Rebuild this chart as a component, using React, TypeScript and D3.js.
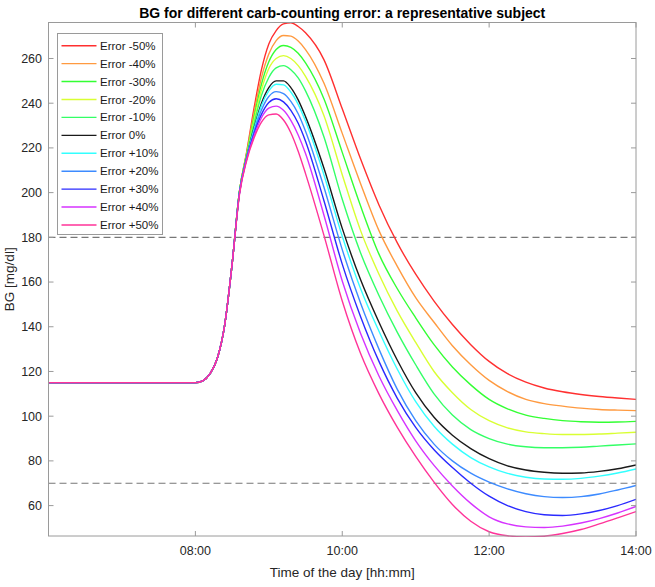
import React from 'react';
import * as d3 from 'd3';

// time of day in decimal hours
const hours = [6, 8, 8.1, 8.2, 8.3, 8.4, 8.5, 8.6, 8.7, 8.8, 8.9, 9.0, 9.1, 9.2, 9.3, 9.4, 9.5, 9.75, 10, 10.25, 10.5, 10.75, 11, 11.25, 11.5, 11.75, 12, 12.25, 12.5, 12.75, 13, 13.25, 13.5, 13.75, 14];

const errMinus50 = [115, 115, 115.8, 119, 126, 141, 168, 200.5, 218.5, 238, 255, 266.5, 272.5, 275.5, 276, 274.3, 271.5, 259.5, 237.5, 215, 194.5, 177.5, 163.5, 151.5, 141, 132, 124.5, 119, 115.2, 112.6, 110.9, 109.7, 108.8, 108.1, 107.5];
const errMinus40 = [115, 115, 115.8, 119, 126, 141, 168, 200.5, 218, 236, 251.5, 262, 268, 270.3, 270, 267.8, 264, 249, 226.5, 204, 183, 167, 153, 142, 131.5, 123, 116, 111, 107.5, 105.6, 104.5, 103.6, 103, 102.7, 102.5];
const errMinus30 = [115, 115, 115.8, 119, 126, 141, 168, 200.5, 217.5, 234, 248.5, 258.5, 264, 265.8, 265, 262.3, 258, 242, 218, 194, 172.5, 157, 144, 132, 122, 114, 107.5, 103.3, 100.5, 99, 98, 97.5, 97.3, 97.4, 97.7];
const errMinus20 = [115, 115, 115.8, 119, 126, 141, 168, 200.5, 217, 232.5, 246, 255.5, 260, 261.3, 260, 256.8, 252, 234.5, 208, 183, 163.5, 147, 133, 120, 110.5, 103, 98, 94.8, 93, 92.2, 91.8, 91.8, 92, 92.4, 92.8];
const errMinus10 = [115, 115, 115.8, 119, 126, 141, 168, 200.5, 216.5, 231, 243.5, 251.5, 255.8, 256.8, 255, 251.3, 245.5, 225, 197, 173, 154, 137.5, 123, 110, 100.5, 94, 90, 87.5, 86.3, 85.9, 85.9, 86.1, 86.6, 87.1, 87.6];
const errZero = [115, 115, 115.8, 119, 126, 141, 168, 200, 216, 229, 240, 247, 250, 250, 247, 241.5, 234, 211, 184, 161, 142, 125, 110.5, 99.5, 91.5, 85.5, 81, 77.8, 75.9, 74.9, 74.5, 74.6, 75.3, 76.5, 78.2];
const errPlus10 = [115, 115, 115.8, 119, 126, 141, 168, 200, 216, 228.5, 239, 245.5, 248.5, 248.2, 245, 239.5, 232, 208, 180.5, 157, 138, 121, 106.5, 95.5, 87.5, 81.5, 77.3, 74.4, 72.7, 71.9, 71.8, 72.2, 73.2, 74.6, 76.4];
const errPlus20 = [115, 115, 115.8, 119, 126, 141, 168, 200, 215.5, 227.5, 237, 243, 245.2, 244.3, 240.8, 235.3, 227.5, 202.5, 174.5, 150.5, 130, 112, 98, 87.5, 80, 74.5, 70.5, 67.5, 65.3, 64, 63.6, 64, 65.2, 67, 69];
const errPlus30 = [115, 115, 115.8, 119, 126, 141, 168, 199.5, 215.5, 226.5, 235, 240.3, 242, 240.6, 236.8, 231, 223, 196.5, 168, 144.5, 124.5, 108, 95, 85, 77, 70, 64.2, 60, 57.3, 55.9, 55.6, 56.3, 57.8, 60, 62.8];
const errPlus40 = [115, 115, 115.8, 119, 126, 141, 168, 199.5, 215, 225.5, 233.5, 237.8, 238.7, 236.8, 232.3, 225.8, 217.5, 190, 160.5, 137, 118, 102.5, 89, 78, 68.8, 61, 55, 51.8, 50.5, 50.2, 50.8, 52.2, 54.2, 56.7, 59.6];
const errPlus50 = [115, 115, 115.8, 119, 126, 141, 168, 199, 214.5, 224.5, 231.5, 234.8, 235.2, 232.5, 226.8, 218.5, 208.5, 181, 151.5, 128, 110, 95, 82, 70.5, 60.5, 53, 48.3, 46.5, 46, 46.3, 47.5, 49.3, 51.8, 54.5, 57.3];

const seriesLabels = ['Error -50%', 'Error -40%', 'Error -30%', 'Error -20%', 'Error -10%', 'Error 0%', 'Error +10%', 'Error +20%', 'Error +30%', 'Error +40%', 'Error +50%'];
const seriesColors = ['#ff3030', '#ff9a40', '#33ff33', '#d9ff33', '#33ff66', '#1a1a1a', '#33ffff', '#3d8bff', '#2a2aff', '#d633ff', '#ff3399'];
const seriesValues = [errMinus50, errMinus40, errMinus30, errMinus20, errMinus10, errZero, errPlus10, errPlus20, errPlus30, errPlus40, errPlus50];

const xTickHours = [8, 10, 12, 14];
const xTickLabels = ['08:00', '10:00', '12:00', '14:00'];
const yTicks = [60, 80, 100, 120, 140, 160, 180, 200, 220, 240, 260];
const thresholds = [180, 70];

const FONT = "'Liberation Sans', Arial, Helvetica, sans-serif";

export default function App() {
  const W = 655;
  const H = 587;
  const L = 48.5, R = 636, T = 22.5, B = 536;
  const x = d3.scaleLinear().domain([6, 14]).range([L, R]);
  const y = d3.scaleLinear().domain([46.4, 276.1]).range([B, T]);
  const line = d3
    .line<number>()
    .x((_, i) => x(hours[i]))
    .y((d) => y(d))
    .curve(d3.curveMonotoneX);

  const axisColor = '#9a9a9a';
  const tickLen = 5;
  const legX = 57.5, legY = 33.5, legW = 105, legH = 201;
  const rowH = 17.93;

  return (
    <svg
      width={W}
      height={H}
      style={{ position: 'absolute', left: 0, top: 0, background: '#fff' }}
      fontFamily={FONT}
    >
      <rect x={0} y={0} width={W} height={H} fill="#fff" />
      <defs>
        <clipPath id="plotclip">
          <rect x={L} y={T - 1} width={R - L} height={B - T + 2} />
        </clipPath>
      </defs>

      {thresholds.map((v) => (
        <line key={v} x1={L} x2={R} y1={y(v)} y2={y(v)} stroke="#777" strokeWidth={1.1} strokeDasharray="7,4" />
      ))}

      <g clipPath="url(#plotclip)">
        {seriesValues.map((vals, i) => (
          <path key={i} d={line(vals) || ''} fill="none" stroke={seriesColors[i]} strokeWidth={1.4} />
        ))}
      </g>

      <rect x={L} y={T} width={R - L} height={B - T} fill="none" stroke={axisColor} strokeWidth={1} />

      {xTickHours.map((h, i) => (
        <g key={h}>
          <line x1={x(h)} x2={x(h)} y1={B} y2={B - tickLen} stroke={axisColor} />
          <line x1={x(h)} x2={x(h)} y1={T} y2={T + tickLen} stroke={axisColor} />
          <text x={x(h)} y={555} textAnchor="middle" fontSize={12.5} fill="#262626">
            {xTickLabels[i]}
          </text>
        </g>
      ))}

      {yTicks.map((v) => (
        <g key={v}>
          <line x1={L} x2={L + tickLen} y1={y(v)} y2={y(v)} stroke={axisColor} />
          <line x1={R} x2={R - tickLen} y1={y(v)} y2={y(v)} stroke={axisColor} />
          <text x={42} y={y(v)} dy="0.35em" textAnchor="end" fontSize={12.5} fill="#262626">
            {v}
          </text>
        </g>
      ))}

      <text x={(L + R) / 2} y={18} textAnchor="middle" fontSize={14} fontWeight="bold" fill="#000">
        BG for different carb-counting error: a representative subject
      </text>
      <text x={(L + R) / 2} y={577} textAnchor="middle" fontSize={13.5} fill="#262626">
        Time of the day [hh:mm]
      </text>
      <text
        transform={`translate(14,${(T + B) / 2}) rotate(-90)`}
        textAnchor="middle"
        fontSize={13.5}
        fill="#262626"
      >
        BG [mg/dl]
      </text>

      <rect x={legX} y={legY} width={legW} height={legH} fill="#fff" stroke={axisColor} strokeWidth={1} />
      {seriesLabels.map((lab, i) => {
        const cy = 45.7 + i * rowH;
        return (
          <g key={lab}>
            <line x1={61.5} x2={96.5} y1={cy} y2={cy} stroke={seriesColors[i]} strokeWidth={1.4} />
            <text x={100} y={cy} dy="0.35em" fontSize={11.5} fill="#1a1a1a">
              {lab}
            </text>
          </g>
        );
      })}
    </svg>
  );
}
